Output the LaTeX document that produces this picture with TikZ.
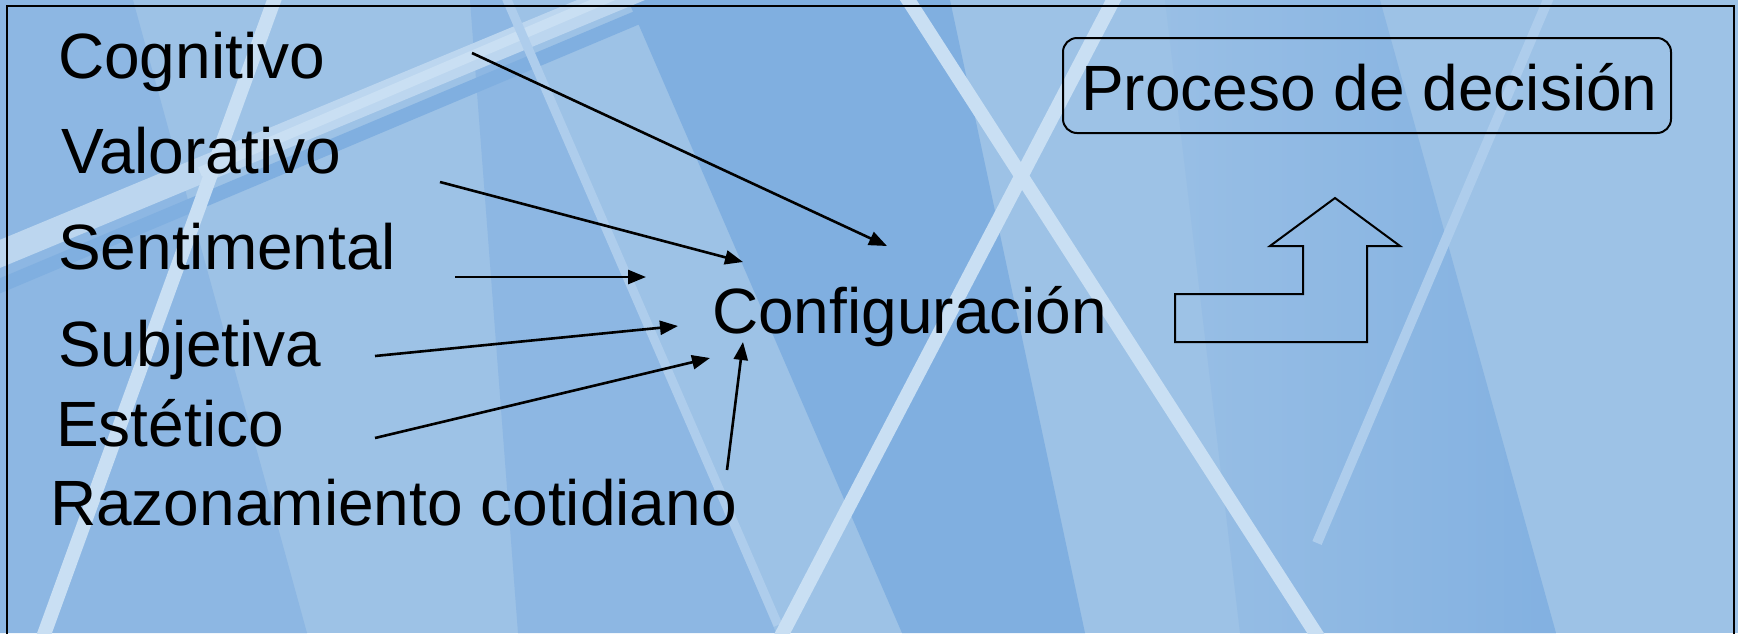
\documentclass[tikz,border=0pt]{standalone}
\usepackage{fontspec}
\setmainfont{Liberation Sans}
\usetikzlibrary{arrows.meta}
\definecolor{bgbase}{HTML}{9DC2E6}
\definecolor{bgmid}{HTML}{8DB7E3}
\definecolor{bgdark}{HTML}{80AFE0}
\definecolor{glowc}{HTML}{C9DFF3}
\definecolor{glowf}{HTML}{AECDEC}
\begin{document}
\begin{tikzpicture}[x=1pt,y=-1pt,
  lbl/.style={anchor=base west,inner sep=0pt,font=\fontsize{64}{77}\selectfont},
  conn/.style={line width=2.6pt,-{Triangle[length=18pt,width=14pt]}},
  boxst/.style={draw,line width=2pt,rounded corners=14pt,minimum width=608pt,minimum height=95pt,inner sep=0pt},
  bright/.style={draw=glowc,line width=#1},
  faint/.style={draw=glowf,line width=#1},
]
\useasboundingbox (0,0) rectangle (1738,633);
\begin{scope}
\clip (0,0) rectangle (1738,633);
\fill[bgbase] (0,0) rectangle (1738,633);
% darker wedges
\fill[bgmid] (0,0) -- (133,0) -- (307,633) -- (0,633) -- cycle;
\fill[bgmid] (470,0) -- (507,0) -- (776,633) -- (518,633) -- cycle;
\fill[bgdark] (628,0) -- (950,0) -- (1085,633) -- (902,633) -- cycle;
\shade[left color=bgbase!70!bgmid, right color=bgdark!80!bgmid] (1165,0) -- (1380,0) -- (1556,633) -- (1240,633) -- cycle;
% diagonal light band top-left
\draw[draw=bgdark,line width=14pt] (-10,290) -- (660,8);
\draw[draw=glowc!70!bgbase,line width=26pt] (-10,258) -- (640,-12);
\draw[bright=10pt] (200,172) -- (640,-16);
% light lines
\draw[bright=14pt] (276,-5) -- (42,640);
\draw[faint=9pt] (505,-5) -- (778,625);
\draw[bright=14pt] (905,-5) -- (1320,640);
\draw[bright=14pt] (1116,-5) -- (779,640);
\draw[faint=10pt] (1550,-5) -- (1317,543);
% frame
\draw[line width=2pt] (7,6) rectangle (1734,660);
\end{scope}
% labels
\node[lbl] (cog) at (58,78) {Cognitivo};
\node[lbl] (val) at (61,173) {Valorativo};
\node[lbl] (sen) at (58,269) {Sentimental};
\node[lbl] (sub) at (58,366) {Subjetiva};
\node[lbl] (est) at (56,446) {Estético};
\node[lbl] (raz) at (50,525) {Razonamiento cotidiano};
\node[lbl] (conf) at (712,333) {Configuración};
\node[boxst] (dec) at (1367,85.5) {};
\node[lbl] (dectxt) at (1081,110) {Proceso de decisión};
% connector end points
\coordinate (cogS) at (472,53);  \coordinate (cogE) at (887,246);
\coordinate (valS) at (440,182); \coordinate (valE) at (743,262);
\coordinate (senS) at (455,277); \coordinate (senE) at (646,277);
\coordinate (subS) at (375,356); \coordinate (subE) at (678,326);
\coordinate (estS) at (375,438); \coordinate (estE) at (710,358);
\coordinate (razS) at (727,470); \coordinate (razE) at (743,342);
\draw[conn] (cogS) -- (cogE);
\draw[conn] (valS) -- (valE);
\draw[conn] (senS) -- (senE);
\draw[conn] (subS) -- (subE);
\draw[conn] (estS) -- (estE);
\draw[conn] (razS) -- (razE);
% bent up arrow
\draw[line width=2pt,line join=miter] (1175,342) -- (1367,342) -- (1367,246) -- (1400,246) -- (1335,198) -- (1270,246) -- (1303,246) -- (1303,294) -- (1175,294) -- cycle;
\end{tikzpicture}
\end{document}
